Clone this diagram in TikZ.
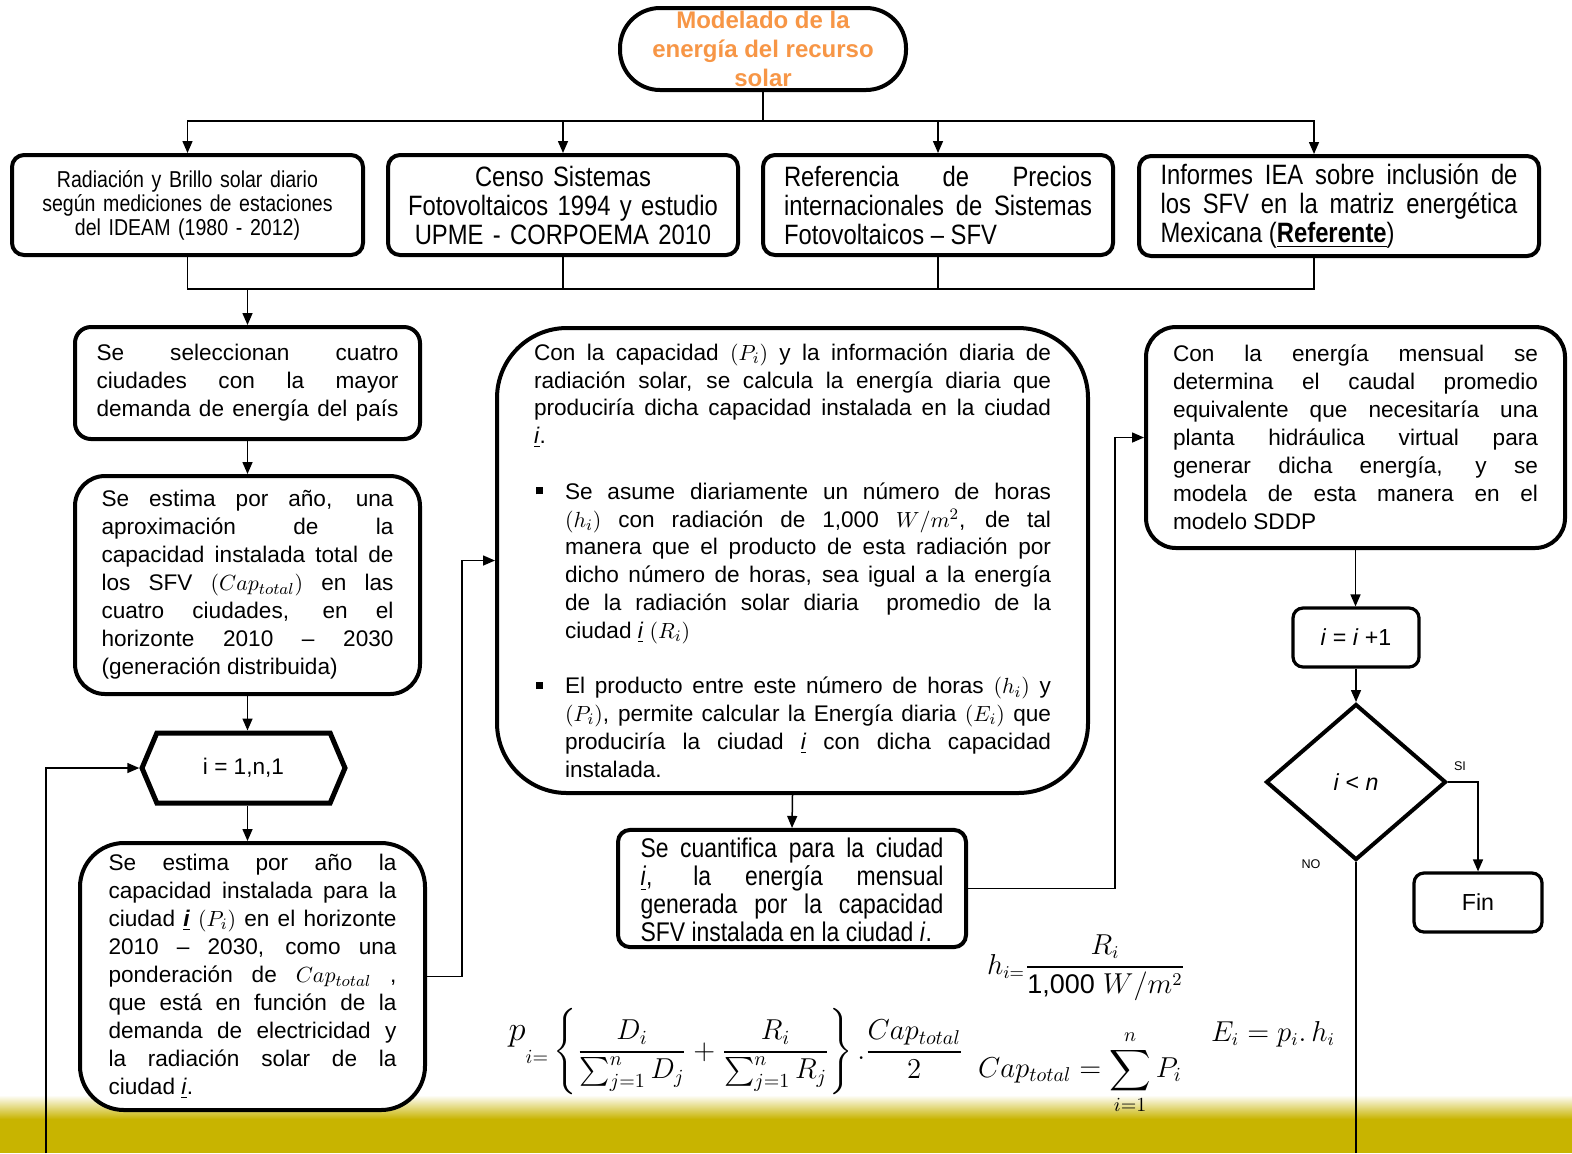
\documentclass[tikz,border=0pt]{standalone}
\usepackage{amsmath}
\usepackage{fontspec}
\setmainfont{Liberation Sans}
\newfontfamily\estrecha[FakeStretch=0.85]{Liberation Sans}
\usepackage{xcolor}
\usepackage{tikz}
\usetikzlibrary{arrows.meta,shapes.geometric,shapes.symbols}
\definecolor{naranja}{RGB}{247,150,70}
\definecolor{banda}{RGB}{200,180,0}
\hyphenpenalty=10000
\tolerance=9999
\emergencystretch=2em
\newcommand{\ciud}{\underline{\textit{i}}}
\newcommand{\vineta}[1]{{\leftskip=15.5pt\noindent\llap{\rule[2.4pt]{3.5pt}{3.5pt}\hspace{11pt}}#1\par}}

\begin{document}
\begin{tikzpicture}[
    x=0.5pt, y=-0.5pt,
    linea/.style={line width=0.75pt},
    flecha/.style={linea, -{Triangle[length=6pt,width=5pt]}},
    caja/.style={draw, line width=2pt, fill=white, rounded corners=#1,
                 align=justify, inner sep=0pt,
                 font=\fontsize{11.3}{14}\selectfont},
    caja/.default=8pt,
    fuente/.style={caja=6pt, font=\estrecha\fontsize{14}{14.5}\selectfont},
    titulo/.style={draw, line width=2pt, fill=white, rounded corners=20pt,
                   minimum width=143pt, minimum height=41pt, inner sep=0pt,
                   align=center, text=naranja,
                   font=\bfseries\fontsize{12}{14.5}\selectfont},
    paso/.style={draw, line width=1.6pt, fill=white, rounded corners=5pt,
                 minimum width=63pt, minimum height=29.5pt, inner sep=0pt,
                 font=\fontsize{11.6}{14}\selectfont},
    formula/.style={inner sep=0pt, font=\fontsize{13.5}{15}\selectfont},
    etiqueta/.style={inner sep=0pt, font=\fontsize{6.3}{7}\selectfont}
]
\useasboundingbox (0,0) rectangle (1572,1153);

% banda inferior
\shade[top color=white, bottom color=banda] (0,1095) rectangle (1572,1119);
\fill[banda] (0,1119) rectangle (1572,1153);

% fuentes de informacion
\node[titulo] (modelado) at (763,49) {Modelado de la\\energía del recurso\\solar};
\node[fuente, align=center, text width=165pt, minimum width=175.5pt, minimum height=50pt,
      font=\estrecha\fontsize{11.5}{12}\selectfont] (radiacion) at (187.5,205)
    {Radiación y Brillo solar diario\\según mediciones de estaciones\\del IDEAM (1980 - 2012)};
\node[fuente, align=center, text width=165pt, minimum width=175pt, minimum height=50pt] (censo) at (563,205)
    {Censo Sistemas\\Fotovoltaicos 1994 y estudio\\UPME - CORPOEMA 2010};
\node[fuente, text width=154pt, minimum width=175pt, minimum height=50pt] (precios) at (938,205)
    {Referencia de Precios\linebreak internacionales de Sistemas\linebreak Fotovoltaicos – SFV};
\node[fuente, text width=178.5pt, minimum width=200pt, minimum height=50pt] (informes) at (1339,206)
    {Informes IEA sobre inclusión de\linebreak los SFV en la matriz energética\linebreak Mexicana (\underline{\textbf{Referente}})};

% columna izquierda
\node[caja, align=left, text width=151pt, minimum width=172.5pt, minimum height=56pt] (ciudades) at (247.5,383)
    {\hbox to 151pt{Se\hfill seleccionan\hfill cuatro}
     \hbox to 151pt{ciudades\hfill con\hfill la\hfill mayor}
     \hbox to 151pt{demanda\hfill de\hfill energía\hfill del\hfill país}};
\node[caja=15pt, text width=146pt, minimum width=172.5pt, minimum height=109pt] (aprox) at (247.5,585)
    {Se estima por año, una\linebreak aproximación de la\linebreak capacidad instalada total de\linebreak los SFV $(Cap_{total})$ en las\linebreak cuatro ciudades, en el\linebreak horizonte 2010 – 2030\linebreak (generación distribuida)};
\node[draw, line width=2.5pt, fill=white, shape=signal, signal to=west and east,
      signal pointer angle=134, minimum width=101.5pt, minimum height=35pt, inner sep=0pt,
      font=\fontsize{11.3}{14}\selectfont] (bucle) at (243.5,768) {i = 1,n,1};
\node[caja=22pt, text width=144pt, minimum width=172.5pt, minimum height=133.5pt] (ponderacion) at (252.5,976.5)
    {Se estima por año la\linebreak capacidad instalada para la\linebreak ciudad \underline{\textbf{\textit{i}}} $(P_i)$ en el horizonte\linebreak 2010 – 2030, como una\linebreak ponderación de $Cap_{total}$ ,\linebreak que está en función de la\linebreak demanda de electricidad y\linebreak la radiación solar de la\linebreak ciudad \ciud.};

% calculo de energia
\node[caja=35pt, text width=258.5pt, minimum width=295.5pt, minimum height=232.5pt,
      font=\fontsize{11.3}{13.9}\selectfont] (diaria) at (792.5,560.5)
    {Con la capacidad $(P_i)$ y la información diaria de\linebreak radiación solar, se calcula la energía diaria que\linebreak produciría dicha capacidad instalada en la ciudad\linebreak \ciud.\par
     \vskip 13.9pt
     \vineta{Se asume diariamente un número de horas\linebreak $(h_i)$ con radiación de 1,000 $W/m^2$, de tal\linebreak manera que el producto de esta radiación por\linebreak dicho número de horas, sea igual a la energía\linebreak de la radiación solar diaria\ \ promedio de la\linebreak ciudad \ciud\ $(R_i)$}
     \vskip 13.9pt
     \vineta{El producto entre este número de horas $(h_i)$ y\linebreak $(P_i)$, permite calcular la Energía diaria $(E_i)$ que\linebreak produciría la ciudad \ciud\ con dicha capacidad\linebreak instalada.}};
\node[caja=6pt, text width=151.5pt, minimum width=174pt, minimum height=56.5pt,
      font=\estrecha\fontsize{13.5}{13.9}\selectfont] (mensual) at (792,888.5)
    {\rule{0pt}{14pt}Se cuantifica para la ciudad\linebreak \ciud, la energía mensual\linebreak generada por la capacidad\linebreak SFV instalada en la ciudad \ciud.};
\node[caja=15pt, text width=182.5pt, minimum width=209.5pt, minimum height=110.5pt] (caudal) at (1355.5,437.5)
    {Con la energía mensual se\linebreak determina el caudal promedio\linebreak equivalente que necesitaría una\linebreak planta hidráulica virtual para\linebreak generar dicha energía, y se\linebreak modela de esta manera en el\linebreak modelo SDDP};

% contador y decision
\node[paso] (contador) at (1356,637.5) {\textit{i} = \textit{i} +1};
\node[draw, line width=2pt, fill=white, diamond, minimum width=90pt, minimum height=78pt,
      inner sep=0pt, font=\fontsize{11.6}{14}\selectfont] (decision) at (1356,782) {\textit{i} < \textit{n}};
\node[paso, minimum width=64pt] (fin) at (1478,902.5) {Fin};
\node[etiqueta] (si) at (1460,766) {SI};
\node[etiqueta] (no) at (1311,864) {NO};

% ecuaciones
\node[formula] (horas) at (1086,968) {$h_{i=}\dfrac{R_i}{\text{1,000}\;W/m^2}$};
\node[formula, font=\fontsize{14.4}{16}\selectfont] (potencia) at (736,1052)
    {$\displaystyle \raisebox{1.2ex}{\fontsize{18}{18}\selectfont$p$}_{i=}\left\{\frac{D_i}{\sum_{j=1}^{n} D_j}+\frac{R_i}{\sum_{j=1}^{n} R_j}\right\}.\frac{Cap_{total}}{2}$};
\node[formula, font=\fontsize{14}{16}\selectfont] (captotal) at (1080,1072) {$\displaystyle Cap_{total}=\sum_{i=1}^{n}P_i$};
\node[formula] (energia) at (1273,1034) {$E_i=p_i.\,h_i$};

% conectores
\coordinate (reparto) at (763,121);
\coordinate (union) at (247.5,289);
\coordinate (infn) at ([xshift=-12.5pt]informes.north);
\coordinate (infs) at ([xshift=-12.5pt]informes.south);
\coordinate (retorno) at (46,1153);
\coordinate (salida) at (1356,1153);

\draw[linea] (modelado.south) -- (reparto);
\foreach \n in {radiacion,censo,precios}
    \draw[flecha] (reparto) -| (\n.north);
\draw[flecha] (reparto) -| (infn);
\foreach \n in {radiacion,censo,precios}
    \draw[linea] (\n.south) |- (union);
\draw[linea] (infs) |- (union);
\draw[flecha] (union) -- (ciudades.north);
\draw[flecha] (ciudades.south) -- (aprox.north);
\draw[flecha] (aprox.south) -- (aprox.south |- bucle.north);
\draw[flecha] (aprox.south |- bucle.south) -- (aprox.south |- ponderacion.north);
\draw[flecha] (ponderacion.east) -- ++(35,0) |- (diaria.west);
\draw[flecha] (diaria.south) -- (mensual.north);
\draw[flecha] (mensual.east) -- ++(147,0) |- (caudal.west);
\draw[flecha] (caudal.south) -- (caudal.south |- contador.north);
\draw[flecha] (contador.south) -- (decision.north);
\draw[flecha] (decision.east) -| (fin.north);
\draw[linea] (decision.south) -- (salida);
\draw[flecha] (retorno) |- (bucle.west);
\end{tikzpicture}
\end{document}
